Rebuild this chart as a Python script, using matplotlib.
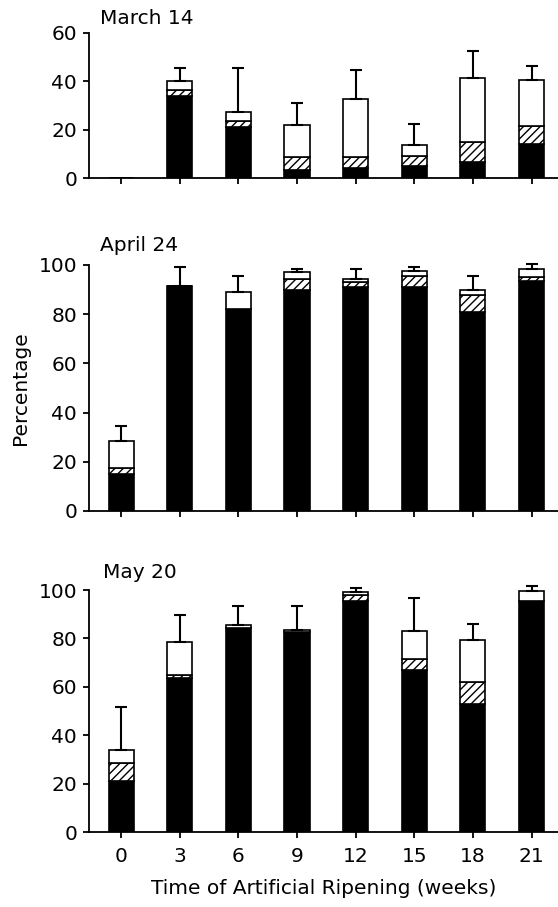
import numpy as np
import matplotlib.pyplot as plt

plt.rcParams['font.family'] = ['DejaVu Sans']
plt.rcParams['hatch.linewidth'] = 1.0

weeks = [0, 3, 6, 9, 12, 15, 18, 21]
tick_labels = ['0', '3', '6', '9', '12', '15', '18', '21']

# March 14
mar_black = [0, 34, 21, 3.5, 4, 5, 6.5, 14]
mar_hatch = [0, 2.5, 2.5, 5, 4.5, 4, 8.5, 7.5]
mar_white = [0, 3.5, 4, 13.5, 24, 4.5, 26.5, 19]
mar_sd = [0, 5.5, 18, 9, 12, 9, 11, 6]

# April 24
apr_black = [15, 91.5, 82, 90, 91, 91, 81, 93.5]
apr_hatch = [2.5, 0, 0, 4.5, 2, 4.5, 7, 1.5]
apr_white = [11, 0, 7, 2.5, 1.5, 2, 2, 3.5]
apr_sd = [6, 7.5, 6.5, 1.5, 4, 1.5, 5.5, 1.8]

# May 20
may_black = [21, 63.5, 84.5, 82.5, 95.5, 67, 53, 95.5]
may_hatch = [7.5, 1.5, 0, 0, 2.5, 4.5, 9, 0]
may_white = [5.5, 13.5, 1, 1, 1, 11.5, 17.5, 4]
may_sd = [17.5, 11.3, 7.7, 9.7, 1.8, 13.5, 6.5, 2.3]

panels = [
    ('March 14', mar_black, mar_hatch, mar_white, mar_sd, 60, [0, 20, 40, 60]),
    ('April 24', apr_black, apr_hatch, apr_white, apr_sd, 100, [0, 20, 40, 60, 80, 100]),
    ('May 20', may_black, may_hatch, may_white, may_sd, 100, [0, 20, 40, 60, 80, 100]),
]

W, H = 558, 907
fig = plt.figure(figsize=(W / 100, H / 100), dpi=100)

# axes boxes in pixels: (left, top, bottom)
boxes = [(89, 33, 178), (89, 265, 511), (89, 590, 832)]
title_pos = [(100, 18), (100, 245), (103, 572)]

fs = 14.5
bw = 1.28
for i, (name, black, hatch, white, sd, ytop, yt) in enumerate(panels):
    l, t, b = boxes[i]
    ax = fig.add_axes([l / W, 1 - b / H, 1 - l / W, (b - t) / H])
    x = np.array(weeks)
    black = np.array(black)
    hatch = np.array(hatch)
    white = np.array(white)
    total = black + hatch + white
    ax.bar(x, black, bw, color='black', edgecolor='black', linewidth=1.2)
    ax.bar(x, hatch, bw, bottom=black, color='white', edgecolor='black',
           hatch='////', linewidth=1.2)
    ax.bar(x, white, bw, bottom=black + hatch, color='white',
           edgecolor='black', linewidth=1.2)
    m = total > 0
    ax.errorbar(x[m], total[m], yerr=[np.zeros(m.sum()), np.array(sd)[m]],
                fmt='none', ecolor='black', elinewidth=1.5, capsize=4.5,
                capthick=1.5, clip_on=False)

    ax.set_xlim(-1.64, 22.35)
    ax.set_ylim(0, ytop)
    ax.set_yticks(yt)
    ax.set_xticks(weeks)
    if i == 2:
        ax.set_xticklabels(tick_labels, fontsize=fs)
        ax.set_xlabel('Time of Artificial Ripening (weeks)', fontsize=fs,
                      labelpad=10)
    else:
        ax.set_xticklabels([])
    ax.tick_params(axis='y', labelsize=fs, length=4.5, width=1.3, pad=4)
    ax.tick_params(axis='x', length=4.5, width=1.3, pad=6)
    for s in ['top', 'right']:
        ax.spines[s].set_visible(False)
    for s in ['left', 'bottom']:
        ax.spines[s].set_linewidth(1.3)
    if i == 1:
        ax.set_ylabel('Percentage', fontsize=fs, labelpad=6)
    tx, ty = title_pos[i]
    fig.text(tx / W, 1 - ty / H, name, fontsize=fs, va='center', ha='left')

fig.savefig('out.png', dpi=100)
